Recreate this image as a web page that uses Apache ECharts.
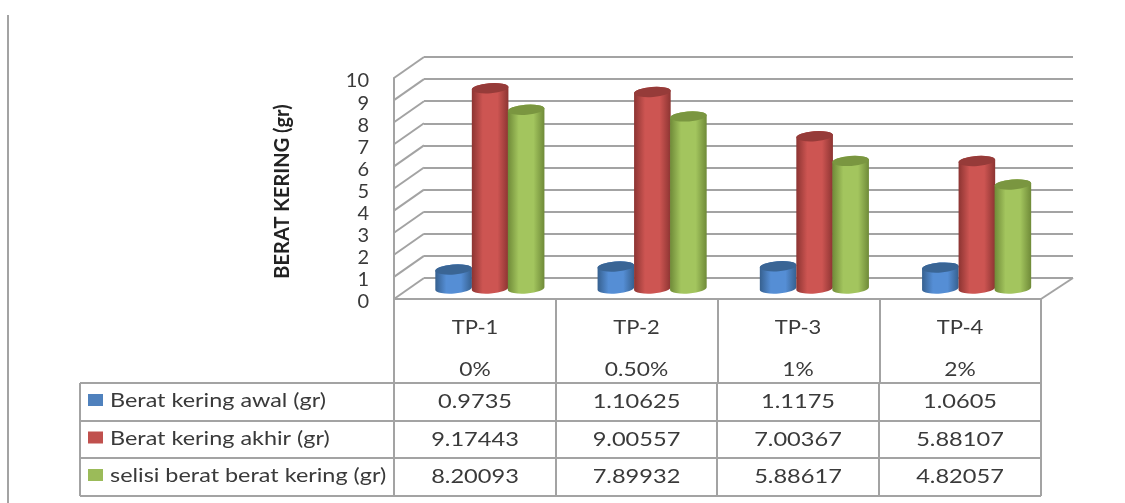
<!DOCTYPE html>
<html>
<head>
<meta charset="utf-8">
<style>
  html, body { margin: 0; padding: 0; background: #fff; }
  #myChart { width: 1125px; height: 503px; }
</style>
<script src="https://cdn.jsdelivr.net/npm/echarts@6/dist/echarts.min.js"></script>
</head>
<body>
<div id="myChart"></div>
<script>
  const categories = ['TP-1', 'TP-2', 'TP-3', 'TP-4']
  const percents = ['0%', '0.50%', '1%', '2%']
  const beratAwal = [0.9735, 1.10625, 1.1175, 1.0605]
  const beratAkhir = [9.17443, 9.00557, 7.00367, 5.88107]
  const selisi = [8.20093, 7.89932, 5.88617, 4.82057]
  const yTicks = [0, 1, 2, 3, 4, 5, 6, 7, 8, 9, 10]
  const names = ['Berat kering awal (gr)', 'Berat kering akhir (gr)', 'selisi berat berat kering (gr)']

  const font = 'Lato, sans-serif'
  const textColor = '#3a3a3a'
  const lineColor = '#a3a3a3'

  // warna silinder: tepi, tengah, tutup, kotak legenda
  const palette = [
    { edge: '#36608f', mid: '#558ed5', top: '#3a6595', key: '#4f81bd' },
    { edge: '#8c3432', mid: '#cd5552', top: '#963b39', key: '#c0504d' },
    { edge: '#6f8a38', mid: '#a3c55e', top: '#7a9640', key: '#9bbb59' }
  ]

  // tabel di bawah grafik
  const colX = [394, 556, 717, 879, 1041]
  const rowY = [383, 421, 458, 496]
  const tableLeft = 80

  function tableGraphics() {
    const els = []
    const line = (x1, y1, x2, y2) => els.push({
      type: 'line',
      shape: { x1, y1, x2, y2 },
      style: { stroke: lineColor, lineWidth: 2 }
    })
    const text = (str, x, y, align, scaleX) => els.push({
      type: 'text',
      x: x,
      y: y,
      scaleX: scaleX,
      style: { text: str, font: '20px ' + font, fill: textColor, textAlign: align, textVerticalAlign: 'middle' }
    })
    rowY.forEach(y => line(tableLeft, y, colX[4], y))
    line(tableLeft, rowY[0], tableLeft, rowY[3])
    colX.forEach(x => line(x, rowY[0], x, rowY[3]))
    // garis kiri halaman
    line(8, 15, 8, 503)

    // label kategori, teks aslinya agak melebar
    categories.forEach((c, i) => {
      const cx = (colX[i] + colX[i + 1]) / 2
      text(c, cx, 328, 'center', 1.1)
      text(percents[i], cx, 370, 'center', 1.14)
    })

    const rows = [beratAwal, beratAkhir, selisi]
    rows.forEach((row, r) => {
      const cy = (rowY[r] + rowY[r + 1]) / 2
      els.push({
        type: 'rect',
        shape: { x: 88, y: cy - 8, width: 15, height: 12 },
        style: { fill: palette[r].key }
      })
      text(names[r], 110, cy - 1, 'left', 1.17)
      row.forEach((v, c) => {
        text(String(v), (colX[c] + colX[c + 1]) / 2, cy, 'center', 1.18)
      })
    })
    return els
  }

  // silinder 3D, posisi dari skala sumbu
  function cylinderSeries(data, idx) {
    const shift = [-36.5, 0, 36][idx]
    const colors = palette[idx]
    return {
      type: 'custom',
      name: names[idx],
      xAxisIndex: 0,
      yAxisIndex: 0,
      clip: false,
      z: 5 + idx,
      data: data.map((v, i) => [i, v]),
      renderItem: function (params, api) {
        const top = api.coord([api.value(0), api.value(1)])
        const base = api.coord([api.value(0), 0])
        const cx = base[0] - 15 + shift
        const by = base[1] + 10.5
        const ty = top[1] + 13
        const rx = 18.3
        const ry = 5
        const tilt = 1.4
        const body = 'M' + (cx - rx) + ' ' + (ty + tilt) +
          ' L' + (cx - rx) + ' ' + (by + tilt) +
          ' A' + rx + ' ' + ry + ' -4 0 0 ' + (cx + rx) + ' ' + (by - tilt) +
          ' L' + (cx + rx) + ' ' + (ty - tilt) +
          ' A' + rx + ' ' + ry + ' -4 0 0 ' + (cx - rx) + ' ' + (ty + tilt) + ' Z'
        const cap = 'M' + (cx - rx) + ' ' + (ty + tilt) +
          ' A' + rx + ' ' + ry + ' -4 1 1 ' + (cx + rx) + ' ' + (ty - tilt) +
          ' A' + rx + ' ' + ry + ' -4 1 1 ' + (cx - rx) + ' ' + (ty + tilt) + ' Z'
        return {
          type: 'group',
          children: [
            {
              type: 'path',
              shape: { pathData: body },
              style: {
                fill: new echarts.graphic.LinearGradient(0, 0, 1, 0, [
                  { offset: 0, color: colors.edge },
                  { offset: 0.3, color: colors.mid },
                  { offset: 0.7, color: colors.mid },
                  { offset: 1, color: colors.edge }
                ])
              }
            },
            { type: 'path', shape: { pathData: cap }, style: { fill: colors.top } }
          ]
        }
      }
    }
  }

  // garis miring dari sumbu depan ke dinding belakang
  const diagonals = {
    type: 'custom',
    xAxisIndex: 1,
    yAxisIndex: 1,
    clip: false,
    z: 1,
    silent: true,
    data: yTicks.map(t => [0, t]),
    renderItem: function (params, api) {
      const p = api.coord([0, api.value(1)])
      const x0 = params.coordSys.x
      return {
        type: 'line',
        shape: { x1: x0, y1: p[1], x2: x0 + 30, y2: p[1] - 21 },
        style: { stroke: lineColor, lineWidth: 2 }
      }
    }
  }

  const floorEdge = {
    type: 'custom',
    xAxisIndex: 1,
    yAxisIndex: 1,
    clip: false,
    z: 1,
    silent: true,
    data: [[0, 0]],
    renderItem: function (params, api) {
      const p = api.coord([0, 0])
      const x1 = params.coordSys.x + params.coordSys.width
      return {
        type: 'line',
        shape: { x1: x1, y1: p[1], x2: x1 + 32, y2: p[1] - 21 },
        style: { stroke: lineColor, lineWidth: 2 }
      }
    }
  }

  const myChart = echarts.init(document.getElementById('myChart'))
  myChart.setOption({
    animation: false,
    backgroundColor: '#fff',
    grid: [
      // dinding belakang
      { left: 424, top: 57, width: 649, height: 221 },
      // bidang depan
      { left: 394, top: 78, width: 647, height: 221 }
    ],
    xAxis: [
      {
        type: 'category',
        gridIndex: 0,
        data: categories,
        axisLine: { show: false },
        axisTick: { show: false },
        axisLabel: { show: false }
      },
      {
        type: 'category',
        gridIndex: 1,
        data: categories,
        axisLine: { show: true, lineStyle: { color: lineColor, width: 2 } },
        axisTick: { show: true, length: 84, lineStyle: { color: lineColor, width: 2 } },
        axisLabel: { show: false }
      }
    ],
    yAxis: [
      {
        type: 'value',
        gridIndex: 0,
        min: 0,
        max: 10,
        interval: 1,
        axisLine: { show: false },
        axisTick: { show: false },
        axisLabel: { show: false },
        splitLine: { show: true, lineStyle: { color: lineColor, width: 2 } }
      },
      {
        type: 'value',
        gridIndex: 1,
        min: 0,
        max: 10,
        interval: 1,
        name: 'BERAT KERING (gr)',
        nameLocation: 'middle',
        nameRotate: 90,
        nameGap: 101,
        nameTextStyle: { color: '#222', fontFamily: font, fontSize: 20, fontWeight: 'bold', padding: [0, 6, 0, 0] },
        axisLine: { show: true, lineStyle: { color: lineColor, width: 2 } },
        axisTick: { show: false },
        splitLine: { show: false },
        axisLabel: {
          color: textColor,
          fontFamily: font,
          fontSize: 20,
          margin: 25,
          verticalAlign: 'top',
          lineHeight: 6
        }
      }
    ],
    series: [
      diagonals,
      floorEdge,
      cylinderSeries(beratAwal, 0),
      cylinderSeries(beratAkhir, 1),
      cylinderSeries(selisi, 2)
    ],
    graphic: tableGraphics()
  })
</script>
</body>
</html>
